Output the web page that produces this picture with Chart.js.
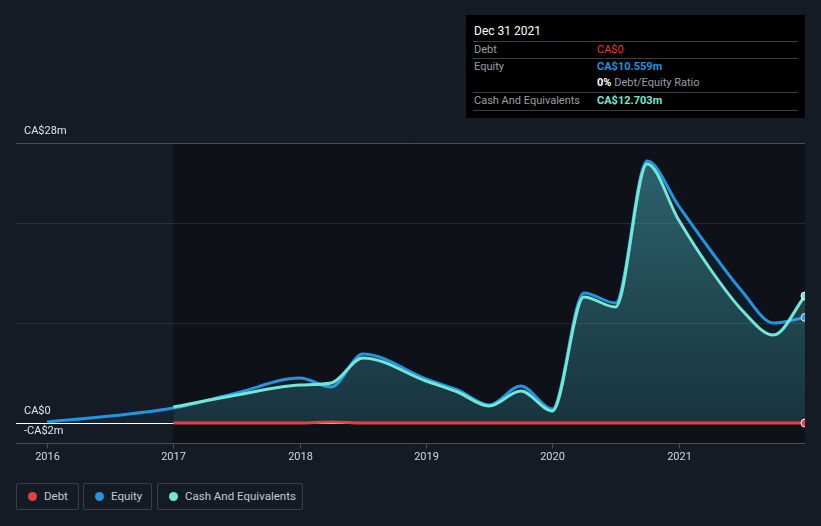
<!DOCTYPE html>
<html>
<head>
<meta charset="utf-8">
<script src="https://cdn.jsdelivr.net/npm/chart.js@4"></script>
<style>
html,body{margin:0;padding:0;background:#151b24;font-family:Roboto,"Noto Sans",sans-serif;}
#wrap{position:absolute;left:0;top:0;width:821px;height:470px;}
#tip{position:absolute;left:466px;top:15px;width:339px;height:103px;background:#000;color:#9a9ea5;font-size:11px;}
#tip .title{position:absolute;left:8px;top:9px;color:#fff;font-size:12px;}
#tip .row{position:absolute;left:7px;right:7px;height:17px;border-top:1px solid #3a3d42;}
#tip .row span{position:absolute;top:0px;line-height:15px;}
#tip .lab{left:1px;}
#tip .val{left:124px;font-weight:bold;}
#legend{position:absolute;left:16px;top:483px;}
.item{position:absolute;top:0;height:27px;border:1px solid #3a404b;border-radius:2px;color:#c5c9cf;font-size:11.5px;white-space:nowrap;box-sizing:border-box;}
.dot{position:absolute;left:11px;top:8px;width:9px;height:9px;border-radius:50%;}
.txt{position:absolute;left:27px;top:5px;line-height:15px;}
</style>
</head>
<body>
<div id="wrap"><canvas id="chart"></canvas></div>

<div id="tip">
<div class="title">Dec 31 2021</div>
<div class="row" style="top:26px"><span class="lab">Debt</span><span class="val" style="color:#e5393b;font-weight:normal">CA$0</span></div>
<div class="row" style="top:43px"><span class="lab">Equity</span><span class="val" style="color:#2394df">CA$10.559m</span></div>
<div class="row" style="top:60px;border-top:none"><span class="val" style="color:#fff">0% <span style="position:static;color:#9a9ea5;font-weight:normal">Debt/Equity Ratio</span></span></div>
<div class="row" style="top:77px"><span class="lab">Cash And Equivalents</span><span class="val" style="color:#71e7d6">CA$12.703m</span></div>
<div class="row" style="top:95px;height:0"></div>
</div>

<div id="legend">
<div class="item" style="left:0;width:63px"><div class="dot" style="background:#e64141"></div><span class="txt">Debt</span></div>
<div class="item" style="left:67px;width:69px"><div class="dot" style="background:#2394df"></div><span class="txt">Equity</span></div>
<div class="item" style="left:141px;width:146px"><div class="dot" style="background:#71e7d6"></div><span class="txt">Cash And Equivalents</span></div>
</div>

<script>
const dates=[2016.0,2016.5,2017.0,2017.5,2018.0,2018.25,2018.5,2019.0,2019.25,2019.5,2019.75,2020.0,2020.25,2020.5,2020.75,2021.0,2021.25,2021.5,2021.75,2022.0];
const equity=[0.1,0.7,1.5,3.0,4.5,3.6,6.9,4.4,3.3,1.8,3.7,1.4,13.0,12.0,26.2,21.7,17.3,13.2,10.0,10.559];
const cash=[null,null,1.6,2.8,3.8,4.0,6.5,4.2,3.1,1.7,3.2,1.2,12.6,11.6,25.9,20.3,15.4,11.3,8.8,12.703];
const debt=[null,null,0,0,0,0.1,0,0,0,0,0,0,0,0,0,0,0,0,0,0];
const years=[2016,2017,2018,2019,2020,2021];
const yLabels=[{v:28,t:"CA$28m",pos:"above"},{v:0,t:"CA$0",pos:"above"},{v:0,t:"-CA$2m",pos:"below"}];
const gridVals=[10,20];

function pts(arr){
return dates.map((d,i)=>({x:d,y:arr[i]}));
}

function lastOnly(arr,r){
return arr.map((v,i)=>i===arr.length-1?r:0);
}

const bgPlugin={
id:"bg",
beforeDatasetsDraw(chart){
const {ctx,chartArea,scales}=chart;
const x=scales.x,y=scales.y;
ctx.save();
ctx.fillStyle="#0e1218";
ctx.fillRect(x.getPixelForValue(2017),chartArea.top,chartArea.right-x.getPixelForValue(2017),chartArea.bottom-chartArea.top);
ctx.strokeStyle="rgba(255,255,255,0.1)";
ctx.lineWidth=1;
gridVals.forEach(v=>{
const py=Math.round(y.getPixelForValue(v))+0.5;
ctx.beginPath();ctx.moveTo(chartArea.left,py);ctx.lineTo(chartArea.right,py);ctx.stroke();
});
ctx.strokeStyle="#4a4e56";
let py=Math.round(y.getPixelForValue(28))+0.5;
ctx.beginPath();ctx.moveTo(chartArea.left,py);ctx.lineTo(chartArea.right,py);ctx.stroke();
ctx.strokeStyle="#ffffff";
py=Math.round(y.getPixelForValue(0))+0.5;
ctx.beginPath();ctx.moveTo(chartArea.left,py);ctx.lineTo(chartArea.right,py);ctx.stroke();
ctx.restore();
},
afterDatasetsDraw(chart){
const {ctx,chartArea,scales}=chart;
const x=scales.x,y=scales.y;
ctx.save();
ctx.strokeStyle="#4a4e56";
ctx.lineWidth=1;
const by=Math.round(chartArea.bottom)+0.5;
ctx.beginPath();ctx.moveTo(chartArea.left,by);ctx.lineTo(chartArea.right,by);ctx.stroke();
ctx.fillStyle="#d2d6dc";
ctx.font="11px Roboto";
ctx.textAlign="center";
ctx.textBaseline="middle";
years.forEach(yr=>{
const px=Math.round(x.getPixelForValue(yr))+0.5;
ctx.beginPath();ctx.moveTo(px,by);ctx.lineTo(px,by+5);ctx.stroke();
ctx.fillText(String(yr),px,chartArea.bottom+14);
});
ctx.textAlign="left";
ctx.font="11px Roboto";
ctx.fillStyle="#e4e6ea";
yLabels.forEach(l=>{
const py=y.getPixelForValue(l.v);
ctx.fillText(l.t,24,l.pos==="above"?py-12:py+8);
});
ctx.restore();
}
};

const ctx=document.getElementById("chart");

new Chart(ctx,{
type:"line",
data:{
datasets:[
{
label:"Debt",
data:pts(debt),
borderColor:"#e64141",
borderWidth:3,
pointRadius:lastOnly(debt,4),
pointBackgroundColor:"#e64141",
pointBorderColor:"#ffffff",
pointBorderWidth:1,
fill:false,
order:1
},
{
label:"Cash And Equivalents",
data:pts(cash),
borderColor:"#71e7d6",
borderWidth:3,
pointRadius:lastOnly(cash,4),
pointBackgroundColor:"#71e7d6",
pointBorderColor:"#ffffff",
pointBorderWidth:1,
fill:"origin",
backgroundColor:(c)=>{
const a=c.chart.chartArea;
if(!a) return "rgba(80,190,200,0.25)";
const g=c.chart.ctx.createLinearGradient(0,a.top,0,a.bottom);
g.addColorStop(0,"rgba(80,190,200,0.45)");
g.addColorStop(1,"rgba(80,190,200,0.12)");
return g;
},
order:2
},
{
label:"Equity",
data:pts(equity),
borderColor:"#2394df",
borderWidth:3,
pointRadius:lastOnly(equity,4),
pointBackgroundColor:"#2394df",
pointBorderColor:"#ffffff",
pointBorderWidth:1,
fill:"origin",
backgroundColor:"rgba(35,148,223,0.08)",
order:3
}
]
},
options:{
responsive:true,
maintainAspectRatio:false,
animation:false,
layout:{padding:{left:16,right:16,top:143,bottom:27}},
elements:{line:{cubicInterpolationMode:"monotone"}},
plugins:{legend:{display:false},tooltip:{enabled:false}},
scales:{
x:{type:"linear",min:2015.754,max:2022,display:false},
y:{min:-2,max:28,display:false}
}
},
plugins:[bgPlugin]
});
</script>
</body>
</html>
